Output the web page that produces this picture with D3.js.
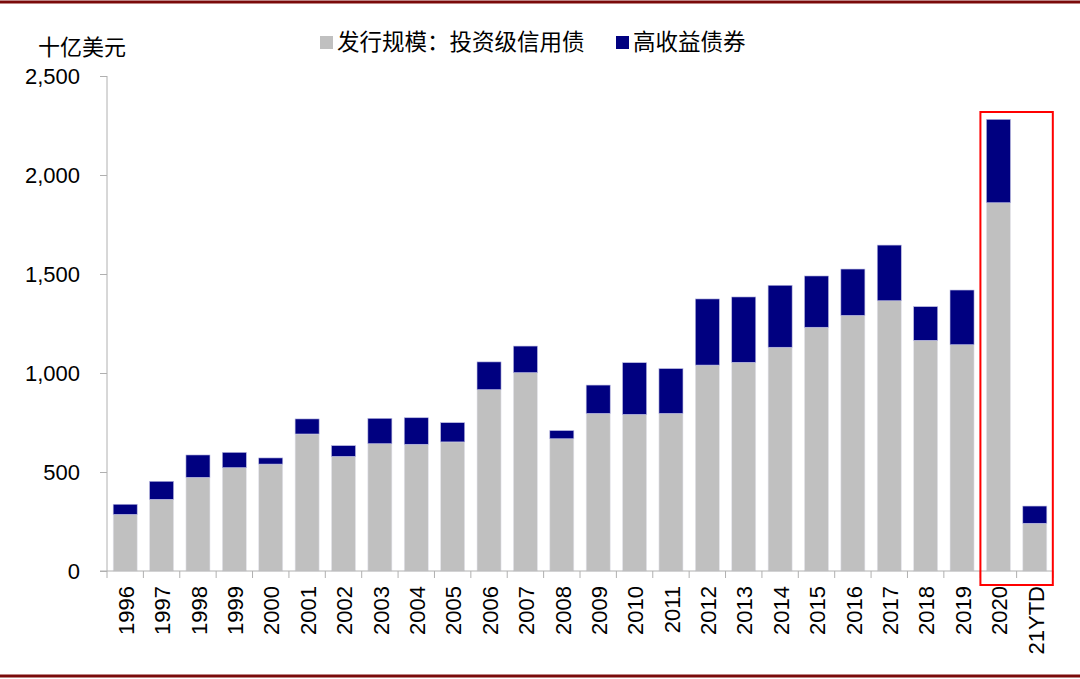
<!DOCTYPE html>
<html><head><meta charset="utf-8">
<script src="https://cdn.jsdelivr.net/npm/d3@7"></script>
<style>
html,body{margin:0;padding:0;background:#fff;}
svg{display:block;}
</style></head>
<body>
<svg id="chart" width="1080" height="679"></svg>
<script>
const categories = ["1996","1997","1998","1999","2000","2001","2002","2003","2004","2005","2006","2007","2008","2009","2010","2011","2012","2013","2014","2015","2016","2017","2018","2019","2020","21YTD"];
const investmentGrade = [286,362,473,522,540,692,579,643,640,652,916,1002,668,796,791,796,1040,1054,1130,1231,1291,1365,1165,1143,1860,241];
const highYield = [51,91,113,77,31,76,54,128,134,97,140,134,41,143,261,226,334,330,313,259,234,281,170,276,421,87];
const yTicks = [0,500,1000,1500,2000,2500];
const seriesNames = ["发行规模：投资级信用债","高收益债券"];
const highlighted = ["2020","21YTD"];

const svg = d3.select("#chart");
const cjk = "'Noto Sans CJK SC','Noto Sans',sans-serif";
const latin = "'Liberation Sans',Arial,sans-serif";
const colors = ["#c0c0c0","#000080"];

const x = d3.scaleBand().domain(categories).range([107,1053]).paddingInner(0.34).paddingOuter(0.17);
const y = d3.scaleLinear().domain([0,2500]).range([571,76]);

// borders
svg.append("line").attr("x1",0).attr("x2",1080).attr("y1",2).attr("y2",2).attr("stroke","#7a0a0a").attr("stroke-width",3);
svg.append("line").attr("x1",0).attr("x2",1080).attr("y1",676).attr("y2",676).attr("stroke","#7a0a0a").attr("stroke-width",3);

// bars
const data = categories.map((c,i)=>({c, ig:investmentGrade[i], hy:highYield[i]}));
const g = svg.append("g");
g.selectAll("rect.ig").data(data).join("rect").attr("class","ig")
  .attr("x",d=>x(d.c)).attr("width",x.bandwidth())
  .attr("y",d=>y(d.ig)).attr("height",d=>y(0)-y(d.ig))
  .attr("fill",colors[0]).attr("stroke","#e4e4ec").attr("stroke-width",0.6);
g.selectAll("rect.hy").data(data).join("rect").attr("class","hy")
  .attr("x",d=>x(d.c)).attr("width",x.bandwidth())
  .attr("y",d=>y(d.ig+d.hy)).attr("height",d=>y(d.ig)-y(d.ig+d.hy))
  .attr("fill",colors[1]).attr("stroke","#b8b8e0").attr("stroke-width",0.6);

// y axis
const yAxis = d3.axisLeft(y).tickValues(yTicks).tickSize(7).tickPadding(20).tickFormat(d3.format(","));
const ya = svg.append("g").attr("transform","translate(107,0)").call(yAxis);
ya.select(".domain").attr("stroke","#b0b0b0").attr("d","M0,76V571");
ya.selectAll(".tick line").attr("stroke","#b0b0b0");
ya.selectAll("text").attr("font-family",latin).attr("font-size",22).attr("fill","#000");

// x axis
const step = x.step();
const xa = svg.append("g");
xa.append("line").attr("x1",100).attr("x2",1053).attr("y1",571).attr("y2",571).attr("stroke","#b0b0b0");
xa.selectAll("line.t").data(d3.range(categories.length+1)).join("line").attr("class","t")
  .attr("x1",i=>107+i*step).attr("x2",i=>107+i*step).attr("y1",571).attr("y2",578).attr("stroke","#b0b0b0");
xa.selectAll("text").data(categories).join("text")
  .attr("transform",d=>`translate(${x(d)+x.bandwidth()/2+1},586) rotate(-90)`)
  .attr("text-anchor","end").attr("dy","0.35em")
  .attr("font-family",latin).attr("font-size",22).attr("fill","#000").text(d=>d);

// highlight box
const hx0 = x(highlighted[0]) - 6, hx1 = x(highlighted[1]) + x.bandwidth() + 6;
svg.append("rect").attr("x",hx0).attr("y",y(2500)+36).attr("width",hx1-hx0).attr("height",585-(y(2500)+36))
  .attr("fill","none").attr("stroke","#ff0000").attr("stroke-width",2);

// unit label
svg.append("text").attr("x",38).attr("y",55).attr("font-family",cjk).attr("font-size",22).attr("fill","#000").text("十亿美元");

// legend
const leg = svg.append("g");
const legX = [320,616];
seriesNames.forEach((n,i)=>{
  leg.append("rect").attr("x",legX[i]).attr("y",36).attr("width",13).attr("height",13).attr("fill",colors[i]);
  leg.append("text").attr("x",legX[i]+17).attr("y",50).attr("font-family",cjk).attr("font-size",22.5).attr("fill","#000").text(n);
});
</script>
</body></html>
